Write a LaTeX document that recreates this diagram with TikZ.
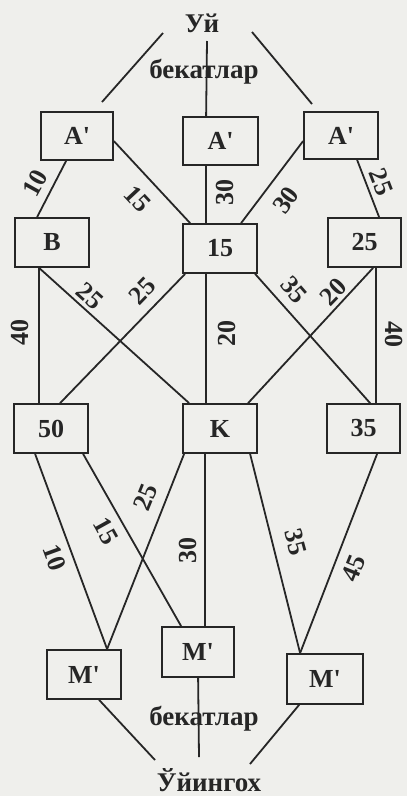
\documentclass[tikz,border=0pt]{standalone}
\usepackage{fontspec}
\setmainfont{Liberation Serif}
\definecolor{ink}{HTML}{262626}
\definecolor{paper}{HTML}{EFEFEC}
\begin{document}
\begin{tikzpicture}[x=1pt,y=-1pt,
  box/.style={draw=ink, line width=1.8pt, minimum width=74pt, minimum height=49pt, inner sep=0pt,
    font=\fontsize{26}{26}\selectfont\bfseries, text=ink},
  lab/.style={font=\fontsize{26}{26}\selectfont\bfseries, text=ink, inner sep=0pt},
  title/.style={font=\fontsize{27}{27}\selectfont\bfseries, text=ink, inner sep=0pt, anchor=base},
  conn/.style={draw=ink, line width=1.8pt}]
\fill[paper] (0,0) rectangle (407,796);
\useasboundingbox (0,0) rectangle (407,796);

% boxes
\node[box, minimum width=72pt, minimum height=48pt] (A1) at (77,136) {A\textquotesingle};
\node[box, minimum width=75pt, minimum height=48pt] (A2) at (220.5,141) {A\textquotesingle};
\node[box, minimum height=47pt] (A3) at (341,135.5) {A\textquotesingle};
\node[box] (B) at (52,242.5) {B};
\node[box] (N15) at (220,248.5) {15};
\node[box, minimum width=73pt] (N25) at (364.5,242.5) {25};
\node[box] (N50) at (51,428.5) {50};
\node[box] (K) at (220,428.5) {K};
\node[box, minimum width=73pt] (N35) at (363.5,428.5) {35};
\node[box] (M1) at (84,674.5) {M\textquotesingle};
\node[box, minimum width=72pt, minimum height=50pt] (M2) at (198,652) {M\textquotesingle};
\node[box, minimum width=76pt, minimum height=50pt] (M3) at (325,679) {M\textquotesingle};

% titles
\node[title] (home) at (202,32) {Уй};
\node[title] (stopsT) at (204,78) {бекатлар};
\node[title] (stopsB) at (204,725) {бекатлар};
\node[title] (school) at (209,791) {Ўйингох};

% free ends
\coordinate (t1a) at (163,33); \coordinate (t1b) at (102,102);
\coordinate (t2a) at (252,32); \coordinate (t2b) at (312,104);
\coordinate (t3a) at (207,41);
\coordinate (b1) at (155,760);
\coordinate (b2) at (199,757);
\coordinate (b3) at (250,764);

% top connectors
\draw[conn] (t1a) -- (t1b);
\draw[conn] (t2a) -- (t2b);
\draw[conn] (t3a) -- ([xshift=24pt]A2.north west);

% level 1
\draw[conn] ([xshift=26pt]A1.south west) -- ([xshift=23pt]B.north west);
\draw[conn] ([yshift=-30pt]A1.north east) -- ([xshift=8pt]N15.north west);
\draw[conn] ([xshift=24pt]A2.south west) -- ([xshift=24pt]N15.north west);
\draw[conn] ([yshift=-30pt]A3.north west) -- ([xshift=59pt]N15.north west);
\draw[conn] ([xshift=54pt]A3.south west) -- ([xshift=52pt]N25.north west);

% level 2
\draw[conn] ([xshift=25pt]B.south west) -- ([xshift=26pt]N50.north west);
\draw[conn] ([xshift=25pt]B.south west) -- ([xshift=7pt]K.north west);
\draw[conn] ([xshift=3pt]N15.south west) -- ([xshift=47pt]N50.north west);
\draw[conn] ([xshift=24pt]N15.south west) -- ([xshift=24pt]K.north west);
\draw[conn] ([xshift=73pt]N15.south west) -- ([xshift=44pt]N35.north west);
\draw[conn] ([xshift=46pt]N25.south west) -- ([xshift=66pt]K.north west);
\draw[conn] ([xshift=49pt]N25.south west) -- ([xshift=50pt]N35.north west);

% level 3
\draw[conn] ([xshift=22pt]N50.south west) -- ([xshift=61pt]M1.north west);
\draw[conn] ([xshift=70pt]N50.south west) -- ([xshift=20pt]M2.north west);
\draw[conn] ([xshift=2pt]K.south west) -- ([xshift=61pt]M1.north west);
\draw[conn] ([xshift=23pt]K.south west) -- ([xshift=44pt]M2.north west);
\draw[conn] ([xshift=68pt]K.south west) -- ([xshift=14pt]M3.north west);
\draw[conn] ([xshift=51pt]N35.south west) -- ([xshift=14pt]M3.north west);

% bottom connectors
\draw[conn] ([xshift=53pt]M1.south west) -- (b1);
\draw[conn] ([xshift=37pt]M2.south west) -- (b2);
\draw[conn] ([xshift=13pt]M3.south west) -- (b3);

% edge labels
\node[lab, rotate=61] (l1) at (35,183) {10};
\node[lab, rotate=-47] (l2) at (138,199) {15};
\node[lab, rotate=90] (l3) at (225,192) {30};
\node[lab, rotate=54] (l4) at (286,200) {30};
\node[lab, rotate=-69] (l5) at (381,182) {25};
\node[lab, rotate=90] (l6) at (20,332) {40};
\node[lab, rotate=-42] (l7) at (90,296) {25};
\node[lab, rotate=46] (l8) at (142,291) {25};
\node[lab, rotate=90] (l9) at (227,333) {20};
\node[lab, rotate=-49] (l10) at (294,290) {35};
\node[lab, rotate=46] (l11) at (333,292) {20};
\node[lab, rotate=-90] (l12) at (394,334) {40};
\node[lab, rotate=-70] (l13) at (55,558) {10};
\node[lab, rotate=-61] (l14) at (106,531) {15};
\node[lab, rotate=68] (l15) at (146,497) {25};
\node[lab, rotate=90] (l16) at (188,550) {30};
\node[lab, rotate=-75] (l17) at (296,542) {35};
\node[lab, rotate=68] (l18) at (354,568) {45};
\end{tikzpicture}
\end{document}
